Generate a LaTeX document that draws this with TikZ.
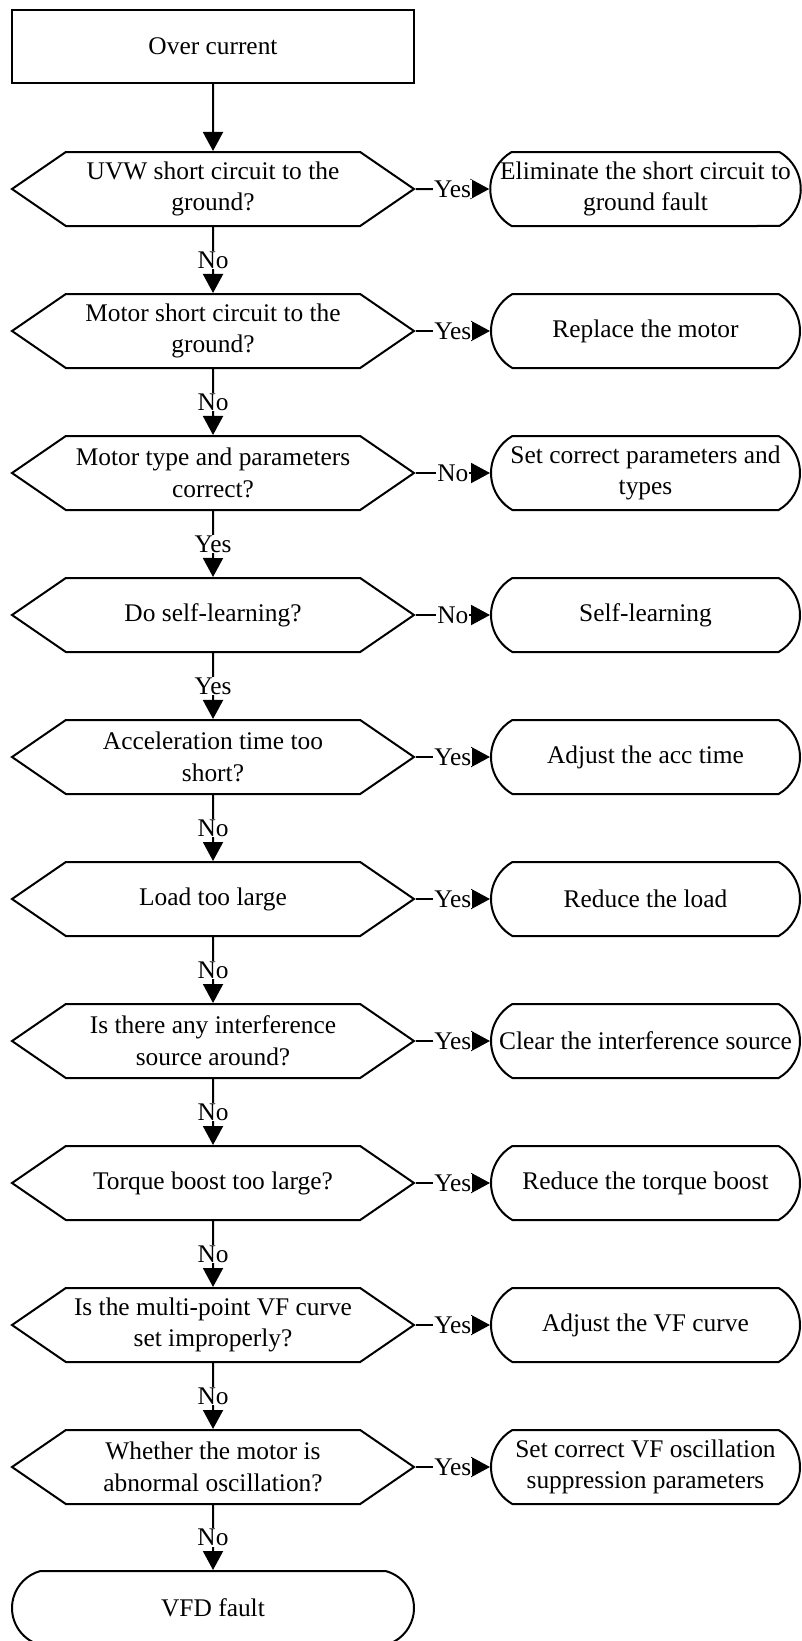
\documentclass[tikz,border=0pt]{standalone}
\usepackage{fontspec}
\setmainfont{Liberation Serif}
\usetikzlibrary{shapes.symbols,shapes.misc,arrows.meta}

\begin{document}
\begin{tikzpicture}[x=1pt, y=-1pt, line width=2pt,
    font=\fontsize{25.4}{31.7}\selectfont,
    startbox/.style={rectangle, draw, minimum width=402pt, minimum height=73pt, inner sep=0pt, align=center},
    decision/.style={signal, signal to=west and east, signal pointer angle=69, draw, minimum width=402pt, minimum height=74pt, inner sep=0pt, align=center},
    endbox/.style={rounded rectangle, rounded rectangle arc length=120, draw, minimum width=309pt, minimum height=74pt, inner sep=0pt, align=center},
    flow/.style={-{Triangle[length=19pt,width=20pt]}},
    answer/.style={fill=white, inner sep=1pt}
]
\useasboundingbox (0,0) rectangle (802,1641);

% Start
\node[startbox] (oc) at (213,46.5) {Over current};

% Checks
\node[decision] (d1) at (213,189) {UVW short circuit to the\\ground?};
\node[decision] (d2) at (213,331) {Motor short circuit to the\\ground?};
\node[decision] (d3) at (213,473) {Motor type and parameters\\correct?};
\node[decision] (d4) at (213,615) {Do self-learning?};
\node[decision] (d5) at (213,757) {Acceleration time too\\short?};
\node[decision] (d6) at (213,899) {Load too large};
\node[decision] (d7) at (213,1041) {Is there any interference\\source around?};
\node[decision] (d8) at (213,1183) {Torque boost too large?};
\node[decision] (d9) at (213,1325) {Is the multi-point VF curve\\set improperly?};
\node[decision] (d10) at (213,1467) {Whether the motor is\\abnormal oscillation?};

% Actions
\node[endbox] (r1) at (645.5,189) {Eliminate the short circuit to\\ground fault};
\node[endbox] (r2) at (645.5,331) {Replace the motor};
\node[endbox] (r3) at (645.5,473) {Set correct parameters and\\types};
\node[endbox] (r4) at (645.5,615) {Self-learning};
\node[endbox] (r5) at (645.5,757) {Adjust the acc time};
\node[endbox] (r6) at (645.5,899) {Reduce the load};
\node[endbox] (r7) at (645.5,1041) {Clear the interference source};
\node[endbox] (r8) at (645.5,1183) {Reduce the torque boost};
\node[endbox] (r9) at (645.5,1325) {Adjust the VF curve};
\node[endbox] (r10) at (645.5,1467) {Set correct VF oscillation\\suppression parameters};

% End
\node[endbox, minimum width=402pt, rounded rectangle arc length=150] (vfd) at (213,1608) {VFD fault};

% Main line
\draw[flow] (oc) -- (d1);
\draw[flow] (d1) -- node[answer] {No} (d2);
\draw[flow] (d2) -- node[answer] {No} (d3);
\draw[flow] (d3) -- node[answer] {Yes} (d4);
\draw[flow] (d4) -- node[answer] {Yes} (d5);
\draw[flow] (d5) -- node[answer] {No} (d6);
\draw[flow] (d6) -- node[answer] {No} (d7);
\draw[flow] (d7) -- node[answer] {No} (d8);
\draw[flow] (d8) -- node[answer] {No} (d9);
\draw[flow] (d9) -- node[answer] {No} (d10);
\draw[flow] (d10) -- node[answer] {No} (vfd);

% Branches
\draw[flow] (d1) -- node[answer] {Yes} (r1);
\draw[flow] (d2) -- node[answer] {Yes} (r2);
\draw[flow] (d3) -- node[answer] {No} (r3);
\draw[flow] (d4) -- node[answer] {No} (r4);
\draw[flow] (d5) -- node[answer] {Yes} (r5);
\draw[flow] (d6) -- node[answer] {Yes} (r6);
\draw[flow] (d7) -- node[answer] {Yes} (r7);
\draw[flow] (d8) -- node[answer] {Yes} (r8);
\draw[flow] (d9) -- node[answer] {Yes} (r9);
\draw[flow] (d10) -- node[answer] {Yes} (r10);

\end{tikzpicture}
\end{document}
